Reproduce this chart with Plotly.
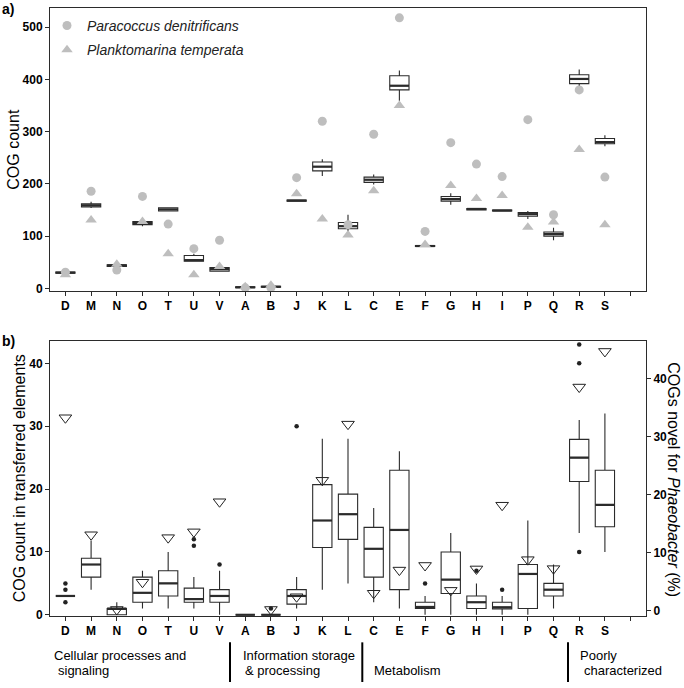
import plotly.graph_objects as go

W, H = 684, 688

# ---------------- data ----------------
categories = ["D", "M", "N", "O", "T", "U", "V", "A", "B", "J", "K",
              "L", "C", "E", "F", "G", "H", "I", "P", "Q", "R", "S"]

# panel a: COG count box statistics
a_lo  = [28, 154, 41, 119, 147, 51, 32, 1, 2, 166, 215, 109, 199, 359, 79, 160, 149, 147, 133, 92, 384, 272]
a_q1  = [29, 156, 42, 122, 148, 52, 33, 1, 2, 167, 225, 114, 203, 380, 80, 167, 150, 148, 138, 100, 392, 277]
a_med = [30, 159, 44, 125, 151, 54, 37, 2, 3, 168, 233, 119, 208, 388, 81, 171, 152, 149, 142, 104, 401, 280]
a_q3  = [31, 162, 45, 128, 154, 63, 40, 3, 4, 169, 242, 126, 213, 407, 82, 176, 153, 150, 145, 108, 409, 287]
a_hi  = [32, 166, 46, 131, 155, 66, 44, 3, 4, 170, 247, 141, 218, 417, 83, 182, 154, 151, 148, 116, 419, 293]
paracoccus    = [31, 186, 35, 176, 123, 76, 92, 1, 1, 212, 320, 122, 295, 518, 109, 279, 238, 214, 323, 141, 380, 213]
planktomarina = [26, 131, 46, 128, 66, 26, 42, 3, 6, 181, 133, 102, 187, 350, 84, 197, 172, 178, 117, 127, 266, 122]

# panel b: COG count in transferred elements
b_lo  = [3, 4, 0, 1, 1, 1, 0, 0, 0, 1, 4, 5, 2, 1, 0, 0, 0, 0, 0, 1, 13, 10]
b_q1  = [3, 6, 0, 2, 3, 2, 2, 0, 0, 1.7, 10.7, 12, 6, 4, 1, 3.4, 1, 0.95, 1, 3, 21.2, 14]
b_med = [3, 8, 1, 3.5, 5, 2.5, 3, 0, 0, 3, 15, 16, 10.5, 13.5, 1.25, 5.6, 2, 1.2, 6.5, 4, 25, 17.5]
b_q3  = [3, 9, 1, 6, 7, 4.25, 4, 0, 0, 4, 20.7, 19.2, 13.9, 23, 2, 10, 3, 2, 8, 5, 27.9, 23]
b_hi  = [3, 11.8, 2, 7, 10, 6, 7, 0, 0, 6, 28, 28, 17, 26, 3, 13, 5, 3, 15, 8, 31, 32]
outlier_cat = ["D", "D", "D", "U", "U", "V", "B", "J", "F", "H", "I", "R", "R", "R"]
outlier_val = [5, 4, 2, 11, 12, 8, 1, 30, 5, 7, 4, 43, 40, 10]
# COGs novel for Phaeobacter (%)
novel_pct = [33.3, 13.1, 0.2, 4.9, 12.6, 13.6, 18.8, None, 0.2, 2.4, 22.5, 32.2,
             3.0, 7.0, 7.8, 3.5, 7.2, 18.2, 8.8, 7.25, 38.6, 44.75]

groups = ["Cellular processes and", "signaling", "Information storage", "& processing",
          "Metabolism", "Poorly", "characterized"]

# ---------------- helpers ----------------
pos = list(range(len(categories)))
idx = {c: i for i, c in enumerate(categories)}
BOXW = 0.75
LINE = "#2b2b2b"
GREY = "#BEBEBE"
FONT = "Liberation Sans, Arial, sans-serif"


def px_x(x):
    return x / W


def px_y(y):
    return 1 - y / H


def median_segments(meds):
    xs, ys = [], []
    for p, m in zip(pos, meds):
        xs += [p - BOXW / 2, p + BOXW / 2, None]
        ys += [m, m, None]
    return xs, ys


fig = go.Figure()

# ---------------- panel a ----------------
fig.add_trace(go.Box(x=pos, q1=a_q1, median=a_med, q3=a_q3, lowerfence=a_lo, upperfence=a_hi,
                     width=BOXW, whiskerwidth=0, fillcolor="white",
                     line=dict(color=LINE, width=1.1), xaxis="x", yaxis="y",
                     showlegend=False, hoverinfo="skip"))
mx, my = median_segments(a_med)
fig.add_trace(go.Scatter(x=mx, y=my, mode="lines", line=dict(color=LINE, width=2.2),
                         xaxis="x", yaxis="y", showlegend=False, hoverinfo="skip"))
fig.add_trace(go.Scatter(x=pos, y=paracoccus, mode="markers", name="<i>Paracoccus denitrificans</i>",
                         marker=dict(symbol="circle", size=9, color=GREY),
                         xaxis="x", yaxis="y", legendgroup="p"))
fig.add_trace(go.Scatter(x=pos, y=planktomarina, mode="markers", name="<i>Planktomarina temperata</i>",
                         marker=dict(symbol="triangle-up", size=10, color=GREY),
                         xaxis="x", yaxis="y", legendgroup="q"))

# ---------------- panel b ----------------
fig.add_trace(go.Box(x=pos, q1=b_q1, median=b_med, q3=b_q3, lowerfence=b_lo, upperfence=b_hi,
                     width=BOXW, whiskerwidth=0, fillcolor="white",
                     line=dict(color=LINE, width=1.1), xaxis="x2", yaxis="y2",
                     showlegend=False, hoverinfo="skip"))
mx, my = median_segments(b_med)
fig.add_trace(go.Scatter(x=mx, y=my, mode="lines", line=dict(color=LINE, width=2.2),
                         xaxis="x2", yaxis="y2", showlegend=False, hoverinfo="skip"))
fig.add_trace(go.Scatter(x=[idx[c] for c in outlier_cat], y=outlier_val, mode="markers",
                         marker=dict(size=4.5, color="#222222"),
                         xaxis="x2", yaxis="y2", showlegend=False, hoverinfo="skip"))
fig.add_trace(go.Scatter(x=pos, y=novel_pct, mode="markers",
                         marker=dict(symbol="triangle-down-open", size=11, color="#222222",
                                     line=dict(width=1, color="#222222")),
                         xaxis="x2", yaxis="y3", showlegend=False, hoverinfo="skip"))

# ---------------- axes ----------------
xdom = [px_x(50), px_x(646)]
ticktext = categories + [""]
tickvals = list(range(len(categories) + 1))
tickfont = dict(family=FONT, size=12, color="black", weight="bold")
common_x = dict(range=[-0.6, 22.6], tickvals=tickvals, ticktext=ticktext, tickfont=tickfont,
                showline=True, linecolor=LINE, linewidth=1, mirror=True, ticks="outside",
                ticklen=4, tickcolor=LINE, showgrid=False, zeroline=False, domain=xdom)
common_y = dict(tickfont=tickfont, showline=True, linecolor=LINE, linewidth=1, ticks="outside",
                ticklen=4, tickcolor=LINE, showgrid=False, zeroline=False)

fig.update_layout(
    width=W, height=H, margin=dict(l=0, r=0, t=0, b=0),
    paper_bgcolor="white", plot_bgcolor="white",
    font=dict(family=FONT, color="black"),
    xaxis=dict(anchor="y", **common_x),
    yaxis=dict(anchor="x", domain=[px_y(293.5), px_y(8)], range=[-5, 537],
               tickvals=[0, 100, 200, 300, 400, 500], mirror=True, **common_y),
    xaxis2=dict(anchor="y2", **common_x),
    yaxis2=dict(anchor="x2", domain=[px_y(621.5), px_y(344.3)], range=[-0.2, 43.5],
                tickvals=[0, 10, 20, 30, 40], mirror=True, **common_y),
    yaxis3=dict(anchor="x2", overlaying="y2", side="right", range=[-0.94, 46.5],
                tickvals=[0, 10, 20, 30, 40], **common_y),
    showlegend=True,
    legend=dict(x=px_x(47), y=px_y(10), xanchor="left", yanchor="top",
                bgcolor="rgba(0,0,0,0)", font=dict(family=FONT, size=14, color="#222222"),
                tracegroupgap=3, itemwidth=30),
)

# ---------------- annotations ----------------
ann = []


def add_text(text, x, y, size=14, angle=0, xanchor="left", yanchor="middle", bold=False):
    ann.append(dict(text=text, x=px_x(x), y=px_y(y), xref="paper", yref="paper",
                    showarrow=False, textangle=angle, xanchor=xanchor, yanchor=yanchor,
                    font=dict(family=FONT, size=size, color="black",
                              weight="bold" if bold else "normal")))


add_text("a)", 0, 9, size=14, bold=True)
add_text("b)", 0, 344, size=14, bold=True)
add_text("COG count", 14, 151, size=16, angle=-90, xanchor="center")
add_text("COG count in transferred elements", 19.5, 483, size=16, angle=-90, xanchor="center")
add_text("COGs novel for <i>Phaeobacter</i> (%)", 673.5, 484, size=16, angle=90, xanchor="center")

add_text(groups[0], 52, 661, size=13)
add_text(groups[1], 56, 676, size=13)
add_text(groups[2], 241, 661, size=13)
add_text(groups[3], 243, 676, size=13)
add_text(groups[4], 372, 676, size=13)
add_text(groups[5], 578, 661, size=13)
add_text(groups[6], 582, 676, size=13)
fig.update_layout(annotations=ann)

shapes = []
for xs in [230, 362.3, 568]:
    shapes.append(dict(type="line", xref="paper", yref="paper", x0=px_x(xs), x1=px_x(xs),
                       y0=px_y(648), y1=0, line=dict(color="black", width=2)))
fig.update_layout(shapes=shapes)

fig.write_html("out.html", config={"displayModeBar": False},
               post_script="document.body.style.margin='0';document.body.style.overflow='hidden';")
